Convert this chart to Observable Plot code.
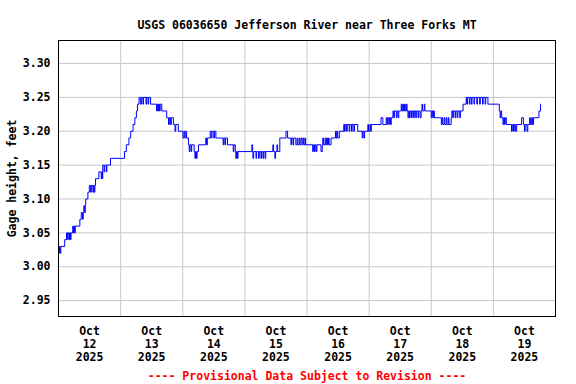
<!DOCTYPE html>
<html>
<head>
<meta charset="utf-8">
<script src="https://cdn.jsdelivr.net/npm/d3@7"></script>
<script src="https://cdn.jsdelivr.net/npm/@observablehq/plot@0.6"></script>
<style>
  html, body { margin: 0; padding: 0; background: #fff; }
</style>
</head>
<body>
<div id="chart"></div>
<script>
// Gage height readings, [hour of day, feet], value holds until next reading
const oct12 = [[0,3.02],[0.4,3.03],[0.65,3.02],[0.9,3.03],[2.4,3.04],[3.1,3.05],[3.5,3.04],[3.75,3.05],[4.25,3.04],[4.5,3.05],[4.6,3.04],[4.85,3.05],[5.5,3.06],[5.75,3.05],[6.0,3.06],[6.25,3.05],[6.5,3.06],[8.25,3.07],[8.8,3.08],[9.3,3.07],[9.55,3.08],[9.8,3.09],[10.1,3.08],[10.35,3.09],[10.5,3.10],[11.35,3.11],[11.9,3.12],[12.4,3.11],[12.7,3.12],[13.3,3.11],[13.55,3.12],[13.8,3.11],[14.05,3.12],[14.3,3.13],[15.6,3.14],[16.5,3.13],[16.75,3.14],[17.0,3.13],[17.1,3.15],[17.6,3.14],[17.85,3.15],[18.5,3.14],[18.7,3.15],[20.1,3.16]];
const oct13 = [[1.5,3.17],[2.2,3.18],[3.2,3.19],[3.9,3.20],[4.8,3.21],[5.5,3.22],[6.1,3.23],[6.5,3.24],[7.1,3.25],[7.6,3.24],[8.0,3.25],[8.6,3.24],[8.85,3.25],[9.8,3.24],[10.05,3.25],[10.6,3.24],[10.85,3.25],[11.6,3.24],[13.9,3.23],[14.15,3.24],[14.4,3.23],[14.65,3.24],[15.0,3.23],[15.3,3.24],[15.9,3.23],[17.8,3.22],[18.5,3.21],[18.8,3.22],[19.3,3.21],[19.6,3.22],[20.4,3.21],[21.0,3.20],[21.3,3.21],[22.3,3.20]];
const oct14 = [[0.1,3.19],[0.5,3.20],[0.8,3.19],[1.2,3.20],[1.5,3.19],[2.2,3.18],[2.5,3.17],[2.75,3.18],[3.2,3.17],[3.45,3.18],[4.4,3.17],[4.7,3.16],[4.95,3.17],[5.3,3.16],[5.55,3.17],[6.1,3.18],[8.9,3.19],[9.2,3.18],[9.5,3.19],[10.6,3.20],[11.0,3.19],[11.3,3.20],[12.0,3.19],[12.25,3.20],[12.8,3.19],[15.6,3.18],[15.85,3.19],[16.3,3.18],[16.55,3.19],[17.3,3.18],[19.5,3.17],[19.75,3.18],[20.3,3.17],[20.5,3.16],[20.75,3.17],[21.1,3.16],[21.35,3.17]];
const oct15 = [[2.7,3.18],[3.0,3.17],[3.1,3.16],[3.4,3.17],[4.3,3.16],[4.55,3.17],[5.3,3.16],[5.55,3.17],[6.2,3.16],[6.45,3.17],[7.0,3.16],[7.25,3.17],[7.8,3.16],[8.05,3.17],[10.8,3.18],[11.1,3.17],[11.6,3.16],[11.85,3.17],[12.4,3.18],[12.65,3.17],[13.5,3.19],[15.9,3.20],[16.5,3.19],[17.8,3.18],[18.05,3.19],[18.6,3.18],[18.85,3.19],[19.7,3.18],[20.2,3.19],[20.45,3.18],[21.0,3.19],[21.25,3.18],[21.7,3.19],[22.1,3.18],[22.5,3.19],[22.75,3.18],[23.2,3.19],[23.45,3.18]];
const oct16 = [[2.2,3.17],[2.45,3.18],[2.9,3.17],[3.15,3.18],[3.6,3.17],[3.85,3.18],[5.4,3.17],[5.9,3.18],[6.1,3.19],[6.4,3.18],[7.0,3.19],[7.25,3.18],[7.6,3.19],[7.9,3.18],[8.3,3.19],[8.55,3.18],[9.3,3.19],[11.0,3.20],[11.3,3.19],[11.6,3.20],[11.85,3.19],[12.5,3.20],[14.2,3.21],[14.5,3.20],[14.75,3.21],[15.3,3.20],[15.55,3.21],[16.3,3.20],[16.55,3.21],[17.2,3.20],[17.45,3.21],[18.1,3.20],[18.35,3.21],[19.6,3.20],[21.3,3.19],[21.55,3.20],[22.0,3.19],[22.25,3.20],[23.5,3.21],[23.75,3.20]];
const oct17 = [[0.3,3.21],[0.6,3.20],[0.85,3.21],[4.6,3.22],[5.3,3.21],[6.6,3.22],[6.9,3.21],[7.15,3.22],[7.6,3.21],[7.85,3.22],[8.3,3.21],[8.55,3.22],[9.2,3.23],[9.5,3.22],[9.75,3.23],[10.5,3.22],[10.75,3.23],[11.2,3.22],[11.45,3.23],[12.4,3.24],[12.65,3.23],[13.0,3.24],[13.25,3.23],[13.7,3.24],[13.95,3.23],[14.4,3.24],[14.65,3.23],[15.0,3.22],[15.3,3.23],[15.6,3.22],[15.85,3.23],[16.4,3.22],[16.65,3.23],[17.2,3.22],[17.45,3.23],[18.0,3.22],[18.25,3.23],[18.9,3.22],[19.15,3.23],[19.7,3.22],[20.1,3.23],[20.4,3.24],[20.65,3.23],[21.3,3.24],[21.55,3.23]];
const oct18 = [[0,3.22],[0.3,3.23],[0.6,3.22],[0.85,3.23],[1.2,3.22],[3.9,3.21],[4.2,3.22],[4.45,3.21],[5.0,3.22],[5.25,3.21],[5.8,3.22],[6.05,3.21],[6.6,3.22],[6.85,3.21],[7.7,3.22],[7.95,3.23],[8.3,3.22],[8.55,3.23],[9.2,3.22],[9.45,3.23],[10.0,3.22],[10.3,3.23],[11.0,3.22],[11.25,3.23],[12.3,3.24],[13.5,3.25],[13.75,3.24],[14.0,3.25],[14.7,3.24],[14.95,3.25],[15.5,3.24],[15.75,3.25],[16.5,3.24],[16.75,3.25],[17.6,3.24],[17.85,3.25],[18.7,3.24],[18.95,3.25],[19.8,3.24],[20.05,3.25],[20.8,3.24],[21.05,3.25],[21.9,3.24]];
const oct19 = [[2.3,3.23],[2.6,3.22],[2.9,3.23],[3.2,3.22],[3.7,3.21],[4.0,3.22],[4.3,3.21],[4.6,3.22],[5.0,3.21],[7.0,3.20],[7.3,3.21],[7.8,3.20],[8.1,3.21],[8.6,3.20],[9.0,3.21],[10.9,3.22],[11.6,3.21],[12.0,3.20],[12.3,3.21],[13.0,3.20],[13.3,3.21],[14.0,3.22],[14.3,3.21],[14.8,3.22],[15.1,3.21],[15.5,3.22],[17.6,3.23],[18.2,3.24],[18.4,3.24]];

const dayArrays = [oct12, oct13, oct14, oct15, oct16, oct17, oct18, oct19];
const yTicks = [2.95, 3.00, 3.05, 3.10, 3.15, 3.20, 3.25, 3.30];
const titleText = "USGS 06036650 Jefferson River near Three Forks MT";
const yLabel = "Gage height, feet";
const captionText = "---- Provisional Data Subject to Revision ----";

const start = Date.UTC(2025, 9, 12);
const HOUR = 3600e3;
const data = dayArrays.flatMap((arr, i) => arr.map(([h, v]) => ({t: new Date(start + (i * 24 + h) * HOUR), v})));
const midnights = d3.range(1, 8).map(i => new Date(start + i * 24 * HOUR));
const noons = d3.range(0, 8).map(i => new Date(start + (i * 24 + 12) * HOUR));
const fmtX = d => `Oct\n${d.getUTCDate()}\n${d.getUTCFullYear()}`;

const font = "DejaVu Sans Mono";
const chart = Plot.plot({
  width: 576,
  height: 384,
  marginLeft: 58,
  marginRight: 21,
  marginTop: 40,
  marginBottom: 68,
  style: {fontFamily: font, fontSize: "11.5px", fontWeight: "bold", background: "#fff", color: "#000"},
  x: {type: "utc", domain: [new Date(start), new Date(start + 8 * 24 * HOUR)]},
  y: {domain: [2.9265, 3.334]},
  marks: [
    Plot.gridX(midnights, {stroke: "#c8c8c8", strokeOpacity: 1, strokeWidth: 1}),
    Plot.gridY(yTicks, {stroke: "#c8c8c8", strokeOpacity: 1, strokeWidth: 1}),
    Plot.line(data, {x: "t", y: "v", stroke: "#0000ff", strokeWidth: 1, curve: "step-after"}),
    Plot.frame({stroke: "#000", strokeWidth: 1}),
    Plot.axisY(yTicks, {tickSize: 0, tickPadding: 8, tickFormat: d3.format(".2f"), label: null, fontWeight: "bold"}),
    Plot.axisX(noons, {tickSize: 0, tickPadding: 9, tickFormat: fmtX, label: null, lineHeight: 1.13, fontWeight: "bold"}),
    Plot.text([titleText], {frameAnchor: "top", dy: -20, fontWeight: "bold", fontSize: 11.5, fill: "#000"}),
    Plot.text([yLabel], {frameAnchor: "left", dx: -46, rotate: -90, textAnchor: "middle", fontWeight: "bold", fontSize: 11.5, fill: "#000"}),
    Plot.text([captionText], {frameAnchor: "bottom", dy: 63, fontWeight: "bold", fontSize: 11.5, fill: "#ff0000"})
  ]
});
document.getElementById("chart").appendChild(chart);
</script>
</body>
</html>
